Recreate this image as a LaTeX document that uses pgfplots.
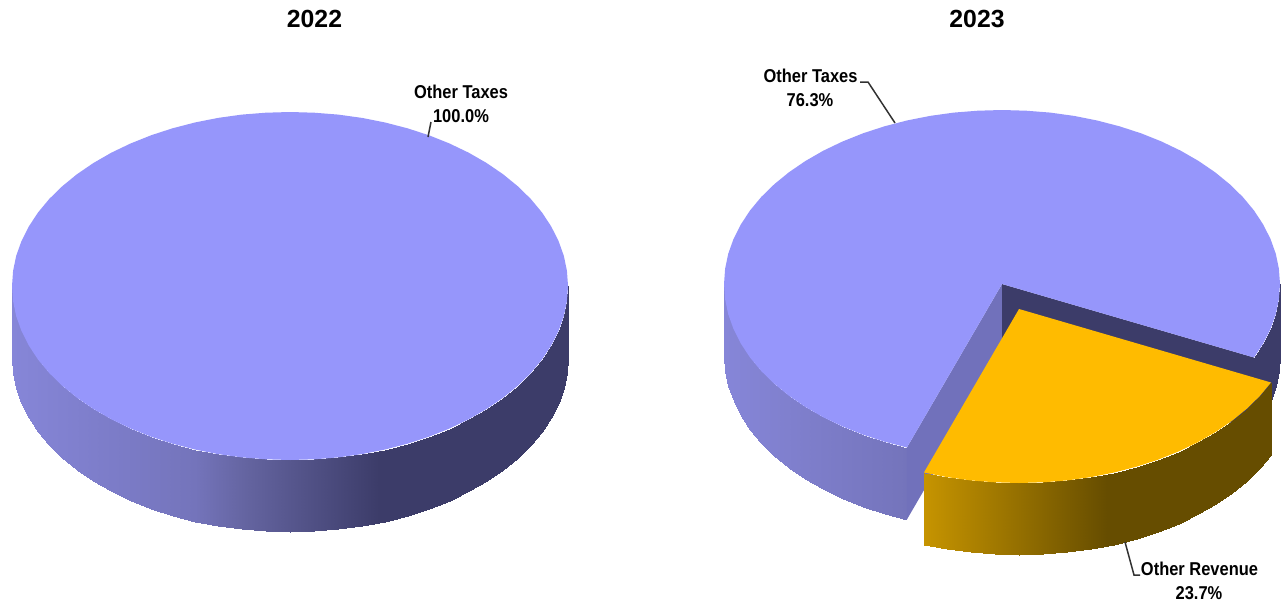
\documentclass[border=0pt]{standalone}
\usepackage{fontspec}
\usepackage{pgfplots}
\pgfplotsset{compat=1.18}
\setmainfont{Liberation Sans}
\newfontfamily\narrowfont[FakeStretch=0.885]{Liberation Sans}
\definecolor{pietop}{RGB}{150,150,251}
\definecolor{piegold}{RGB}{255,187,0}
\definecolor{pieface}{RGB}{113,113,187}
\definecolor{piedark}{RGB}{60,60,105}
\definecolor{leader}{RGB}{50,50,50}
\pgfplotsset{
  pageaxis/.style={scale only axis, width=1283pt, height=603pt, hide axis, y dir=reverse,
    point meta min=-278, point meta max=278},
  wall/.style={surf, shader=interp, mesh/rows=2, point meta=x},
  bluewall/.style={colormap={pieblue}{rgb255(0pt)=(134,134,216); rgb255(183pt)=(116,116,187);
    rgb255(234pt)=(100,100,160); rgb255(367pt)=(60,60,105); rgb255(556pt)=(60,60,105)}},
  goldwall/.style={colormap={piebrown}{rgb255(0pt)=(230,170,0); rgb255(183pt)=(198,148,0);
    rgb255(366pt)=(102,77,0); rgb255(556pt)=(102,77,0)}},
}
\begin{document}
\begin{tikzpicture}
\path[use as bounding box] (0,0) rectangle (1283pt,603pt);
% 2022, offsets from the centre of the top face at (290,286)
\begin{axis}[pageaxis, bluewall, xmin=-290, xmax=993, ymin=-286, ymax=317]
\addplot[wall] coordinates {
(278,0) (276.9,15.2) (273.8,30.2) (268.5,45) (261.2,59.5) (252,73.5) (240.8,87) (227.7,99.8) (213,111.8) (196.6,123) (178.7,133.3) (159.5,142.5) (139,150.7) (117.5,157.7) (95.1,163.5) (72,168.1) (48.3,171.4) (24.2,173.3) (0,174)
(-24.2,173.3) (-48.3,171.4) (-72,168.1) (-95.1,163.5) (-117.5,157.7) (-139,150.7) (-159.5,142.5) (-178.7,133.3) (-196.6,123) (-213,111.8) (-227.7,99.8) (-240.8,87) (-252,73.5) (-261.2,59.5) (-268.5,45) (-273.8,30.2) (-276.9,15.2) (-278,0)

(278,72) (276.9,87.2) (273.8,102.2) (268.5,117) (261.2,131.5) (252,145.5) (240.8,159) (227.7,171.8) (213,183.8) (196.6,195) (178.7,205.3) (159.5,214.5) (139,222.7) (117.5,229.7) (95.1,235.5) (72,240.1) (48.3,243.4) (24.2,245.3) (0,246)
(-24.2,245.3) (-48.3,243.4) (-72,240.1) (-95.1,235.5) (-117.5,229.7) (-139,222.7) (-159.5,214.5) (-178.7,205.3) (-196.6,195) (-213,183.8) (-227.7,171.8) (-240.8,159) (-252,145.5) (-261.2,131.5) (-268.5,117) (-273.8,102.2) (-276.9,87.2) (-278,72)
};
\addplot[draw=none, fill=pietop] coordinates {
(278,0) (276.9,15.2) (273.8,30.2) (268.5,45) (261.2,59.5) (252,73.5) (240.8,87) (227.7,99.8) (213,111.8) (196.6,123) (178.7,133.3) (159.5,142.5) (139,150.7) (117.5,157.7) (95.1,163.5) (72,168.1) (48.3,171.4) (24.2,173.3) (0,174)
(-24.2,173.3) (-48.3,171.4) (-72,168.1) (-95.1,163.5) (-117.5,157.7) (-139,150.7) (-159.5,142.5) (-178.7,133.3) (-196.6,123) (-213,111.8) (-227.7,99.8) (-240.8,87) (-252,73.5) (-261.2,59.5) (-268.5,45) (-273.8,30.2) (-276.9,15.2) (-278,0)
(-276.9,-15.2) (-273.8,-30.2) (-268.5,-45) (-261.2,-59.5) (-252,-73.5) (-240.8,-87) (-227.7,-99.8) (-213,-111.8) (-196.6,-123) (-178.7,-133.3) (-159.5,-142.5) (-139,-150.7) (-117.5,-157.7) (-95.1,-163.5) (-72,-168.1) (-48.3,-171.4) (-24.2,-173.3) (0,-174)
(24.2,-173.3) (48.3,-171.4) (72,-168.1) (95.1,-163.5) (117.5,-157.7) (139,-150.7) (159.5,-142.5) (178.7,-133.3) (196.6,-123) (213,-111.8) (227.7,-99.8) (240.8,-87) (252,-73.5) (261.2,-59.5) (268.5,-45) (273.8,-30.2) (276.9,-15.2)
} -- cycle;
\end{axis}
% 2023, larger slice, centre at (1002,284)
\begin{axis}[pageaxis, bluewall, xmin=-1002, xmax=281, ymin=-284, ymax=319]
\addplot[wall] coordinates {
(278,0) (276.9,15.2) (273.8,30.2) (268.5,45) (261.2,59.5) (252,73.5)

(278,72) (276.9,87.2) (273.8,102.2) (268.5,117) (261.2,131.5) (252,145.5)
};
\addplot[wall] coordinates {
(-95.1,163.5) (-117.5,157.7) (-139,150.7) (-159.5,142.5) (-178.7,133.3) (-196.6,123) (-213,111.8) (-227.7,99.8) (-240.8,87) (-252,73.5) (-261.2,59.5) (-268.5,45) (-273.8,30.2) (-276.9,15.2) (-278,0)

(-95.1,235.5) (-117.5,229.7) (-139,222.7) (-159.5,214.5) (-178.7,205.3) (-196.6,195) (-213,183.8) (-227.7,171.8) (-240.8,159) (-252,145.5) (-261.2,131.5) (-268.5,117) (-273.8,102.2) (-276.9,87.2) (-278,72)
};
\addplot[draw=none, fill=pieface] coordinates {(0,0) (-95.1,163.5) (-95.1,235.5) (0,72)} -- cycle;
\addplot[draw=none, fill=piedark] coordinates {(0,0) (252,73.5) (252,145.5) (0,72)} -- cycle;
\addplot[draw=none, fill=pietop] coordinates {
(0,0) (-95.1,163.5) (-117.5,157.7) (-139,150.7) (-159.5,142.5) (-178.7,133.3) (-196.6,123) (-213,111.8) (-227.7,99.8) (-240.8,87) (-252,73.5) (-261.2,59.5) (-268.5,45) (-273.8,30.2) (-276.9,15.2) (-278,0)
(-276.9,-15.2) (-273.8,-30.2) (-268.5,-45) (-261.2,-59.5) (-252,-73.5) (-240.8,-87) (-227.7,-99.8) (-213,-111.8) (-196.6,-123) (-178.7,-133.3) (-159.5,-142.5) (-139,-150.7) (-117.5,-157.7) (-95.1,-163.5) (-72,-168.1) (-48.3,-171.4) (-24.2,-173.3) (0,-174)
(24.2,-173.3) (48.3,-171.4) (72,-168.1) (95.1,-163.5) (117.5,-157.7) (139,-150.7) (159.5,-142.5) (178.7,-133.3) (196.6,-123) (213,-111.8) (227.7,-99.8) (240.8,-87) (252,-73.5) (261.2,-59.5) (268.5,-45) (273.8,-30.2) (276.9,-15.2)
(278,0) (276.9,15.2) (273.8,30.2) (268.5,45) (261.2,59.5) (252,73.5)
} -- cycle;
\end{axis}
% 2023, exploded slice, centre at (1019,309)
\begin{axis}[pageaxis, goldwall, xmin=-1019, xmax=264, ymin=-309, ymax=294]
\addplot[wall] coordinates {
(252,73.5) (240.8,87) (227.7,99.8) (213,111.8) (196.6,123) (178.7,133.3) (159.5,142.5) (139,150.7) (117.5,157.7) (95.1,163.5) (72,168.1) (48.3,171.4) (24.2,173.3) (0,174) (-24.2,173.3) (-48.3,171.4) (-72,168.1) (-95.1,163.5)

(252,145.5) (240.8,159) (227.7,171.8) (213,183.8) (196.6,195) (178.7,205.3) (159.5,214.5) (139,222.7) (117.5,229.7) (95.1,235.5) (72,240.1) (48.3,243.4) (24.2,245.3) (0,246) (-24.2,245.3) (-48.3,243.4) (-72,240.1) (-95.1,235.5)
};
\addplot[draw=none, fill=piegold] coordinates {
(0,0) (252,73.5) (240.8,87) (227.7,99.8) (213,111.8) (196.6,123) (178.7,133.3) (159.5,142.5) (139,150.7) (117.5,157.7) (95.1,163.5) (72,168.1) (48.3,171.4) (24.2,173.3) (0,174) (-24.2,173.3) (-48.3,171.4) (-72,168.1) (-95.1,163.5)
} -- cycle;
\end{axis}
% titles, leaders and labels in picture pixels
\begin{axis}[pageaxis, xmin=0, xmax=1283, ymin=0, ymax=603, clip=false]
\addplot[leader, line width=1.5pt] coordinates {(428,137) (431,122)};
\addplot[leader, line width=1.5pt] coordinates {(895,123) (868,82) (860,82)};
\addplot[leader, line width=1.5pt] coordinates {(1125,542) (1134,575) (1140,575)};
\node[font=\fontsize{24.8}{28}\selectfont\bfseries] at (axis cs:314.5,18.5) {2022};
\node[font=\fontsize{24.8}{28}\selectfont\bfseries] at (axis cs:977,18.5) {2023};
\node[font=\narrowfont\fontsize{18.6}{22}\selectfont\bfseries] at (axis cs:461,91.5) {Other Taxes};
\node[font=\narrowfont\fontsize{18.6}{22}\selectfont\bfseries] at (axis cs:461,116.5) {100.0\%};
\node[font=\narrowfont\fontsize{18.6}{22}\selectfont\bfseries] at (axis cs:810.5,75.5) {Other Taxes};
\node[font=\narrowfont\fontsize{18.6}{22}\selectfont\bfseries] at (axis cs:810,100.5) {76.3\%};
\node[font=\narrowfont\fontsize{18.6}{22}\selectfont\bfseries] at (axis cs:1199.5,568.5) {Other Revenue};
\node[font=\narrowfont\fontsize{18.6}{22}\selectfont\bfseries] at (axis cs:1199,593.5) {23.7\%};
\end{axis}
\end{tikzpicture}
\end{document}
